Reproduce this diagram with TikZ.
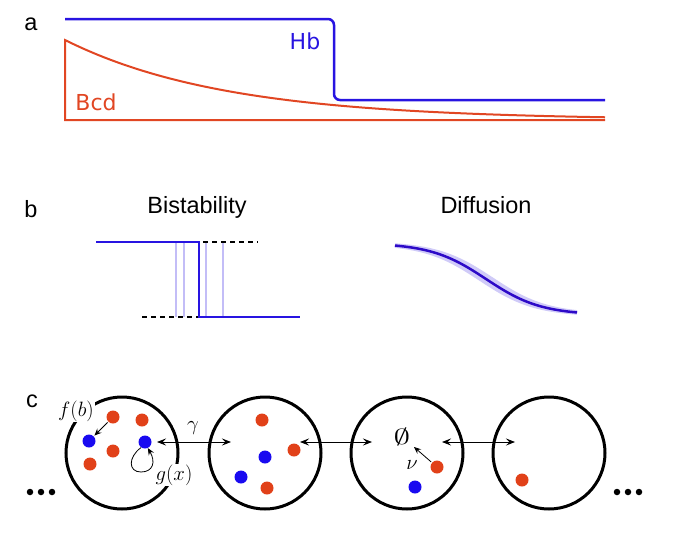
\documentclass[tikz,border=0pt]{standalone}
\usepackage[no-math]{fontspec}
\setmainfont{Liberation Sans}
\newfontfamily\djv{DejaVu Sans}
\usetikzlibrary{arrows.meta,calc}
\definecolor{hbblue}{RGB}{40,20,225}
\definecolor{bcdred}{RGB}{225,70,35}
\definecolor{dotred}{RGB}{225,65,25}
\definecolor{dotblue}{RGB}{25,10,240}
\definecolor{diffblue}{RGB}{45,10,200}
\begin{document}
\begin{tikzpicture}[x=1pt,y=-1pt,
  lab/.style={font=\fontsize{23.5}{27}\selectfont, inner sep=0, anchor=base},
  genelab/.style={font=\djv\fontsize{22}{25}\selectfont, inner sep=0},
  dotr/.style={circle, fill=dotred, minimum size=13pt, inner sep=0},
  dotb/.style={circle, fill=dotblue, minimum size=13pt, inner sep=0},
  cell/.style={circle, draw=black, line width=3pt, minimum size=112pt, inner sep=0},
  mlab/.style={font=\fontsize{22}{26}\selectfont, inner sep=1pt},
  ellip/.style={circle, fill=black, minimum size=6.5pt, inner sep=0},
  link/.style={{Stealth[length=9pt,width=7pt,inset=3.5pt]}-{Stealth[length=9pt,width=7pt,inset=3.5pt]}, line width=0.8pt},
  react/.style={-{Stealth[length=7pt,width=6pt,inset=2.5pt]}, line width=0.8pt}
]
\useasboundingbox (0,0) rectangle (680,536);

% ---------- panel a ----------
\node[lab] (la) at (31,30) {a};
\draw[bcdred, line width=2pt, line join=miter]
  (605,120) -- (65,120) -- plot[domain=65:605, samples=120] (\x,{120-80*exp(-(\x-65)/160)});
\draw[hbblue, line width=2.5pt, rounded corners=6pt] (65,19) -- (334,19) -- (334,100) -- (605,100);
\node[genelab, text=hbblue] (hb) at (305,41) {Hb};
\node[genelab, text=bcdred] (bcd) at (96,102) {Bcd};

% ---------- panel b ----------
\node[lab] (lb) at (31,217) {b};
\node[lab] (tbist) at (197,213) {Bistability};
\node[lab] (tdiff) at (486,213) {Diffusion};

\foreach \xx in {176,184,206,223}
  \draw[hbblue!28, line width=1.3pt] (\xx,242) -- (\xx,317);
\draw[black, line width=1.5pt, dash pattern=on 5pt off 4pt] (203,242) -- (258,242);
\draw[black, line width=1.5pt, dash pattern=on 5pt off 4pt] (142,317) -- (198,317);
\draw[hbblue, line width=2.5pt] (96,242) -- (199,242) -- (199,317) -- (300,317);

\foreach \s in {-6,0,6}
  \draw[hbblue!22, line width=3.5pt] plot[domain=395:577, samples=60] (\x,{279+36*tanh((\x-486+\s)/55)});
\draw[diffblue, line width=2.5pt] plot[domain=395:577, samples=60] (\x,{279+36*tanh((\x-486)/55)});

% ---------- panel c ----------
\node[lab] (lc) at (32,407) {c};

\node[cell] (c1) at (122,453) {};
\node[cell] (c2) at (265,453) {};
\node[cell] (c3) at (407,453) {};
\node[cell] (c4) at (549,453) {};

% cell 1
\node[dotr] (r11) at (113,417) {};
\node[dotr] (r12) at (142,420) {};
\node[dotb] (b11) at (89,441) {};
\node[dotr] (r13) at (113,451) {};
\node[dotb] (b12) at (145,442) {};
\node[dotr] (r14) at (90,464) {};
\node[mlab, fill=white] (fb) at (76,411) {$f(b)$};
\node[mlab, fill=white] (gx) at (174,475) {$g(x)$};
\draw[react, shorten >=1pt, shorten <=1pt] (r11) -- (b11);
\draw[react] (b12.235) .. controls (128,457) and (128,472) .. (141,472)
  .. controls (153,472) and (156,462) .. (b12.-65);

% cell 2
\node[dotr] (r21) at (262,420) {};
\node[dotb] (b21) at (265,457) {};
\node[dotr] (r22) at (294,450) {};
\node[dotb] (b22) at (241,477) {};
\node[dotr] (r23) at (267,488) {};

% cell 3
\node[mlab] (empty) at (402,437) {\scalebox{1.6}[1.05]{$\emptyset$}};
\node[mlab] (nu) at (412,465) {$\nu$};
\node[dotr] (r31) at (437,467) {};
\node[dotb] (b31) at (415,487) {};
\draw[react, shorten <=1pt] (r31) -- (414,447);

% cell 4
\node[dotr] (r41) at (522,480) {};

% exchange arrows
\coordinate (e1a) at ($(c1)+(35,-11)$);
\coordinate (e1b) at ($(c2)+(-34,-11)$);
\coordinate (e2a) at ($(c2)+(35,-11)$);
\coordinate (e2b) at ($(c3)+(-35,-11)$);
\coordinate (e3a) at ($(c3)+(35,-11)$);
\coordinate (e3b) at ($(c4)+(-34,-11)$);
\draw[link] (e1a) -- (e1b);
\draw[link] (e2a) -- (e2b);
\draw[link] (e3a) -- (e3b);
\node[mlab] (gam) at (193,428) {$\gamma$};

% ellipses
\foreach \xx [count=\i] in {30,41,52}
  \node[ellip] (dl\i) at (\xx,492) {};
\foreach \xx [count=\i] in {617,628,639}
  \node[ellip] (dr\i) at (\xx,492) {};
\end{tikzpicture}
\end{document}
